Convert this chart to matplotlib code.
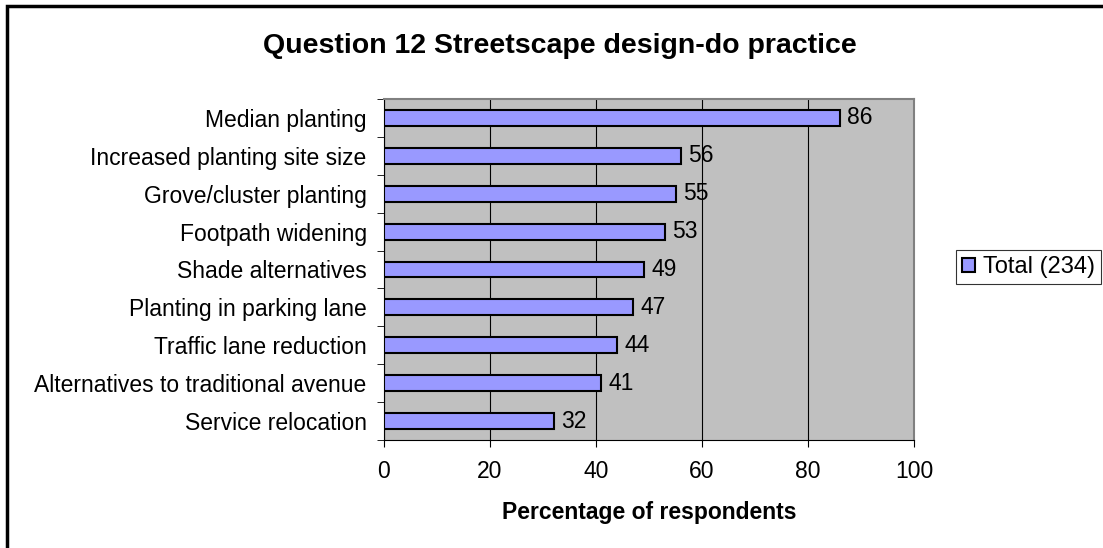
import numpy as np
import matplotlib.pyplot as plt
from matplotlib.patches import Rectangle

categories = ["Median planting", "Increased planting site size", "Grove/cluster planting",
              "Footpath widening", "Shade alternatives", "Planting in parking lane",
              "Traffic lane reduction", "Alternatives to traditional avenue", "Service relocation"]
values = [86, 56, 55, 53, 49, 47, 44, 41, 32]
series_name = "Total (234)"
xticks = [0, 20, 40, 60, 80, 100]

plt.rcParams['font.family'] = ['Liberation Sans', 'DejaVu Sans']
fs = 16.5

fig = plt.figure(figsize=(11.03, 5.48), dpi=100)
ax = fig.add_axes([384 / 1103, 1 - 440 / 548, (914 - 384) / 1103, (440 - 99) / 548])
ax.set_facecolor('#c0c0c0')

# outer chart frame (cut off at right/bottom like the original)
fig.patches.append(Rectangle((7 / 1103, -0.05), 1.1, 1 - 6 / 548 + 0.05, transform=fig.transFigure,
                             fill=False, edgecolor='black', linewidth=2.5, zorder=0))

y = np.arange(len(categories))[::-1]
bars = ax.barh(y, values, height=0.42, color='#9999ff', edgecolor='black', linewidth=1.5,
               label=series_name, zorder=3)
for yi, v in zip(y, values):
    ax.annotate(str(v), (v, yi), xytext=(5.5, 0), textcoords='offset points',
                va='center', ha='left', fontsize=fs, zorder=4)

ax.set_xlim(0, 100)
ax.set_ylim(-0.5, len(categories) - 0.5)
ax.set_xticks(xticks)
ax.set_xticklabels([str(t) for t in xticks], fontsize=fs)
ax.set_yticks(y)
ax.set_yticklabels(categories, fontsize=fs)
ax.tick_params(axis='y', length=0, pad=12.5)
ax.set_yticks(np.arange(-0.5, len(categories)), minor=True)
ax.tick_params(axis='y', which='minor', length=5, direction='out', color='black')
ax.tick_params(axis='x', length=5, direction='out', pad=9.5)
ax.xaxis.grid(True, color='black', linewidth=0.8, zorder=1)
ax.set_axisbelow(True)
for s in ['top', 'right']:
    ax.spines[s].set_color('#808080')
    ax.spines[s].set_linewidth(1.5)
ax.spines['left'].set_color('black')
ax.spines['bottom'].set_color('black')

ax.set_xlabel("Percentage of respondents", fontsize=fs, fontweight='bold', labelpad=13)
fig.text(560 / 1103, 1 - 46 / 548, "Question 12 Streetscape design-do practice", ha='center', va='center',
         fontsize=20.5, fontweight='bold')

leg = fig.legend(handles=[bars], labels=[series_name], loc='center left',
                 bbox_to_anchor=(956 / 1103, 1 - 267 / 548), fontsize=17, frameon=True,
                 fancybox=False, edgecolor='black', handlelength=0.55, handleheight=0.55,
                 handletextpad=0.35, borderpad=0.25, borderaxespad=0)
leg.get_frame().set_linewidth(0.8)

fig.savefig("out.png", dpi=100)
